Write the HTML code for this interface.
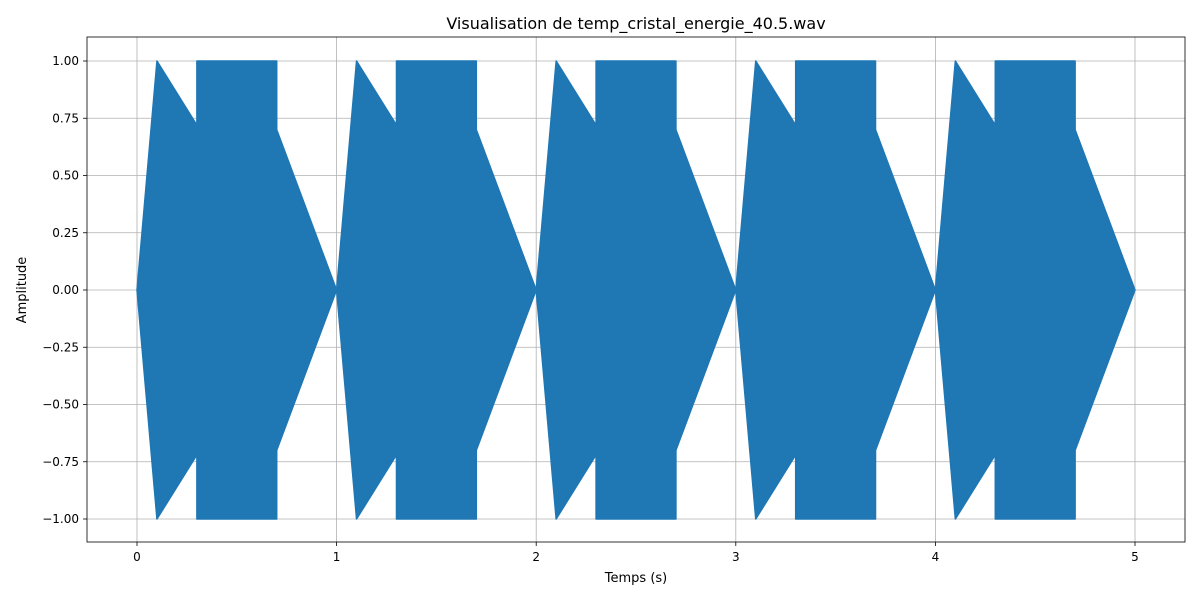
<!DOCTYPE html>
<html><head><meta charset="utf-8"><style>
body{margin:0;background:#fff;}
svg{display:block;font-family:"DejaVu Sans","Liberation Sans",sans-serif;}
</style></head><body>
<svg id="chart" width="1200" height="600">
<rect width="1200" height="600" fill="#fff"/>
<g id="grid"></g>
<g id="series"></g>
<rect x="87" y="37" width="1098" height="505" fill="none" stroke="#000" stroke-width="0.8"/>
<g id="ticks"></g>
<text x="636" y="29" font-size="16" text-anchor="middle">Visualisation de temp_cristal_energie_40.5.wav</text>
<text x="636" y="582" font-size="13" text-anchor="middle">Temps (s)</text>
<text x="26" y="290" font-size="13" text-anchor="middle" transform="rotate(-90 26 290)">Amplitude</text>
</svg>
<script>
const xTicks=[0,1,2,3,4,5];
const yTicks=[-1,-0.75,-0.5,-0.25,0,0.25,0.5,0.75,1];
const yTickLabels=["\u22121.00","\u22120.75","\u22120.50","\u22120.25","0.00","0.25","0.50","0.75","1.00"];
const cycleStarts=[0,1,2,3,4];
const envTimes=[0,0.1,0.3,0.3,0.7,0.7,1.0];
const envValues=[0,1,0.72,1,1,0.7,0];
const X=t=>137+t*199.6;
const Y=v=>290-v*229;
const NS="http://www.w3.org/2000/svg";
function mk(tag,attrs,parent){const e=document.createElementNS(NS,tag);for(const k in attrs)e.setAttribute(k,attrs[k]);parent.appendChild(e);return e;}
const grid=document.getElementById('grid'),ticks=document.getElementById('ticks'),series=document.getElementById('series');
xTicks.forEach(t=>{
 const g=mk('line',{x1:X(t),x2:X(t),y1:37,y2:542,stroke:'#b0b0b0','stroke-width':0.8},grid);
 
 const tk=mk('line',{x1:X(t),x2:X(t),y1:542,y2:546,stroke:'#000','stroke-width':0.8},ticks);
 
 const tx=mk('text',{x:X(t),y:561,'font-size':12,'text-anchor':'middle'},ticks);tx.textContent=String(t);
 
});
yTicks.forEach((v,i)=>{
 const g=mk('line',{x1:87,x2:1185,y1:Y(v),y2:Y(v),stroke:'#b0b0b0','stroke-width':0.8},grid);
 
 const tk=mk('line',{x1:83,x2:87,y1:Y(v),y2:Y(v),stroke:'#000','stroke-width':0.8},ticks);
 
 const tx=mk('text',{x:79,y:Y(v)+4,'font-size':12,'text-anchor':'end'},ticks);tx.textContent=yTickLabels[i];
 
});
cycleStarts.forEach(s=>{
 const top=envTimes.map((t,i)=>X(s+t)+','+Y(envValues[i]));
 const bot=envTimes.map((t,i)=>X(s+t)+','+Y(-envValues[i])).reverse();
 const p=mk('polygon',{points:top.concat(bot).join(' '),fill:'#1f77b4',stroke:'#1f77b4','stroke-width':1.5,'stroke-linejoin':'round'},series);
 
});
</script>
</body></html>
